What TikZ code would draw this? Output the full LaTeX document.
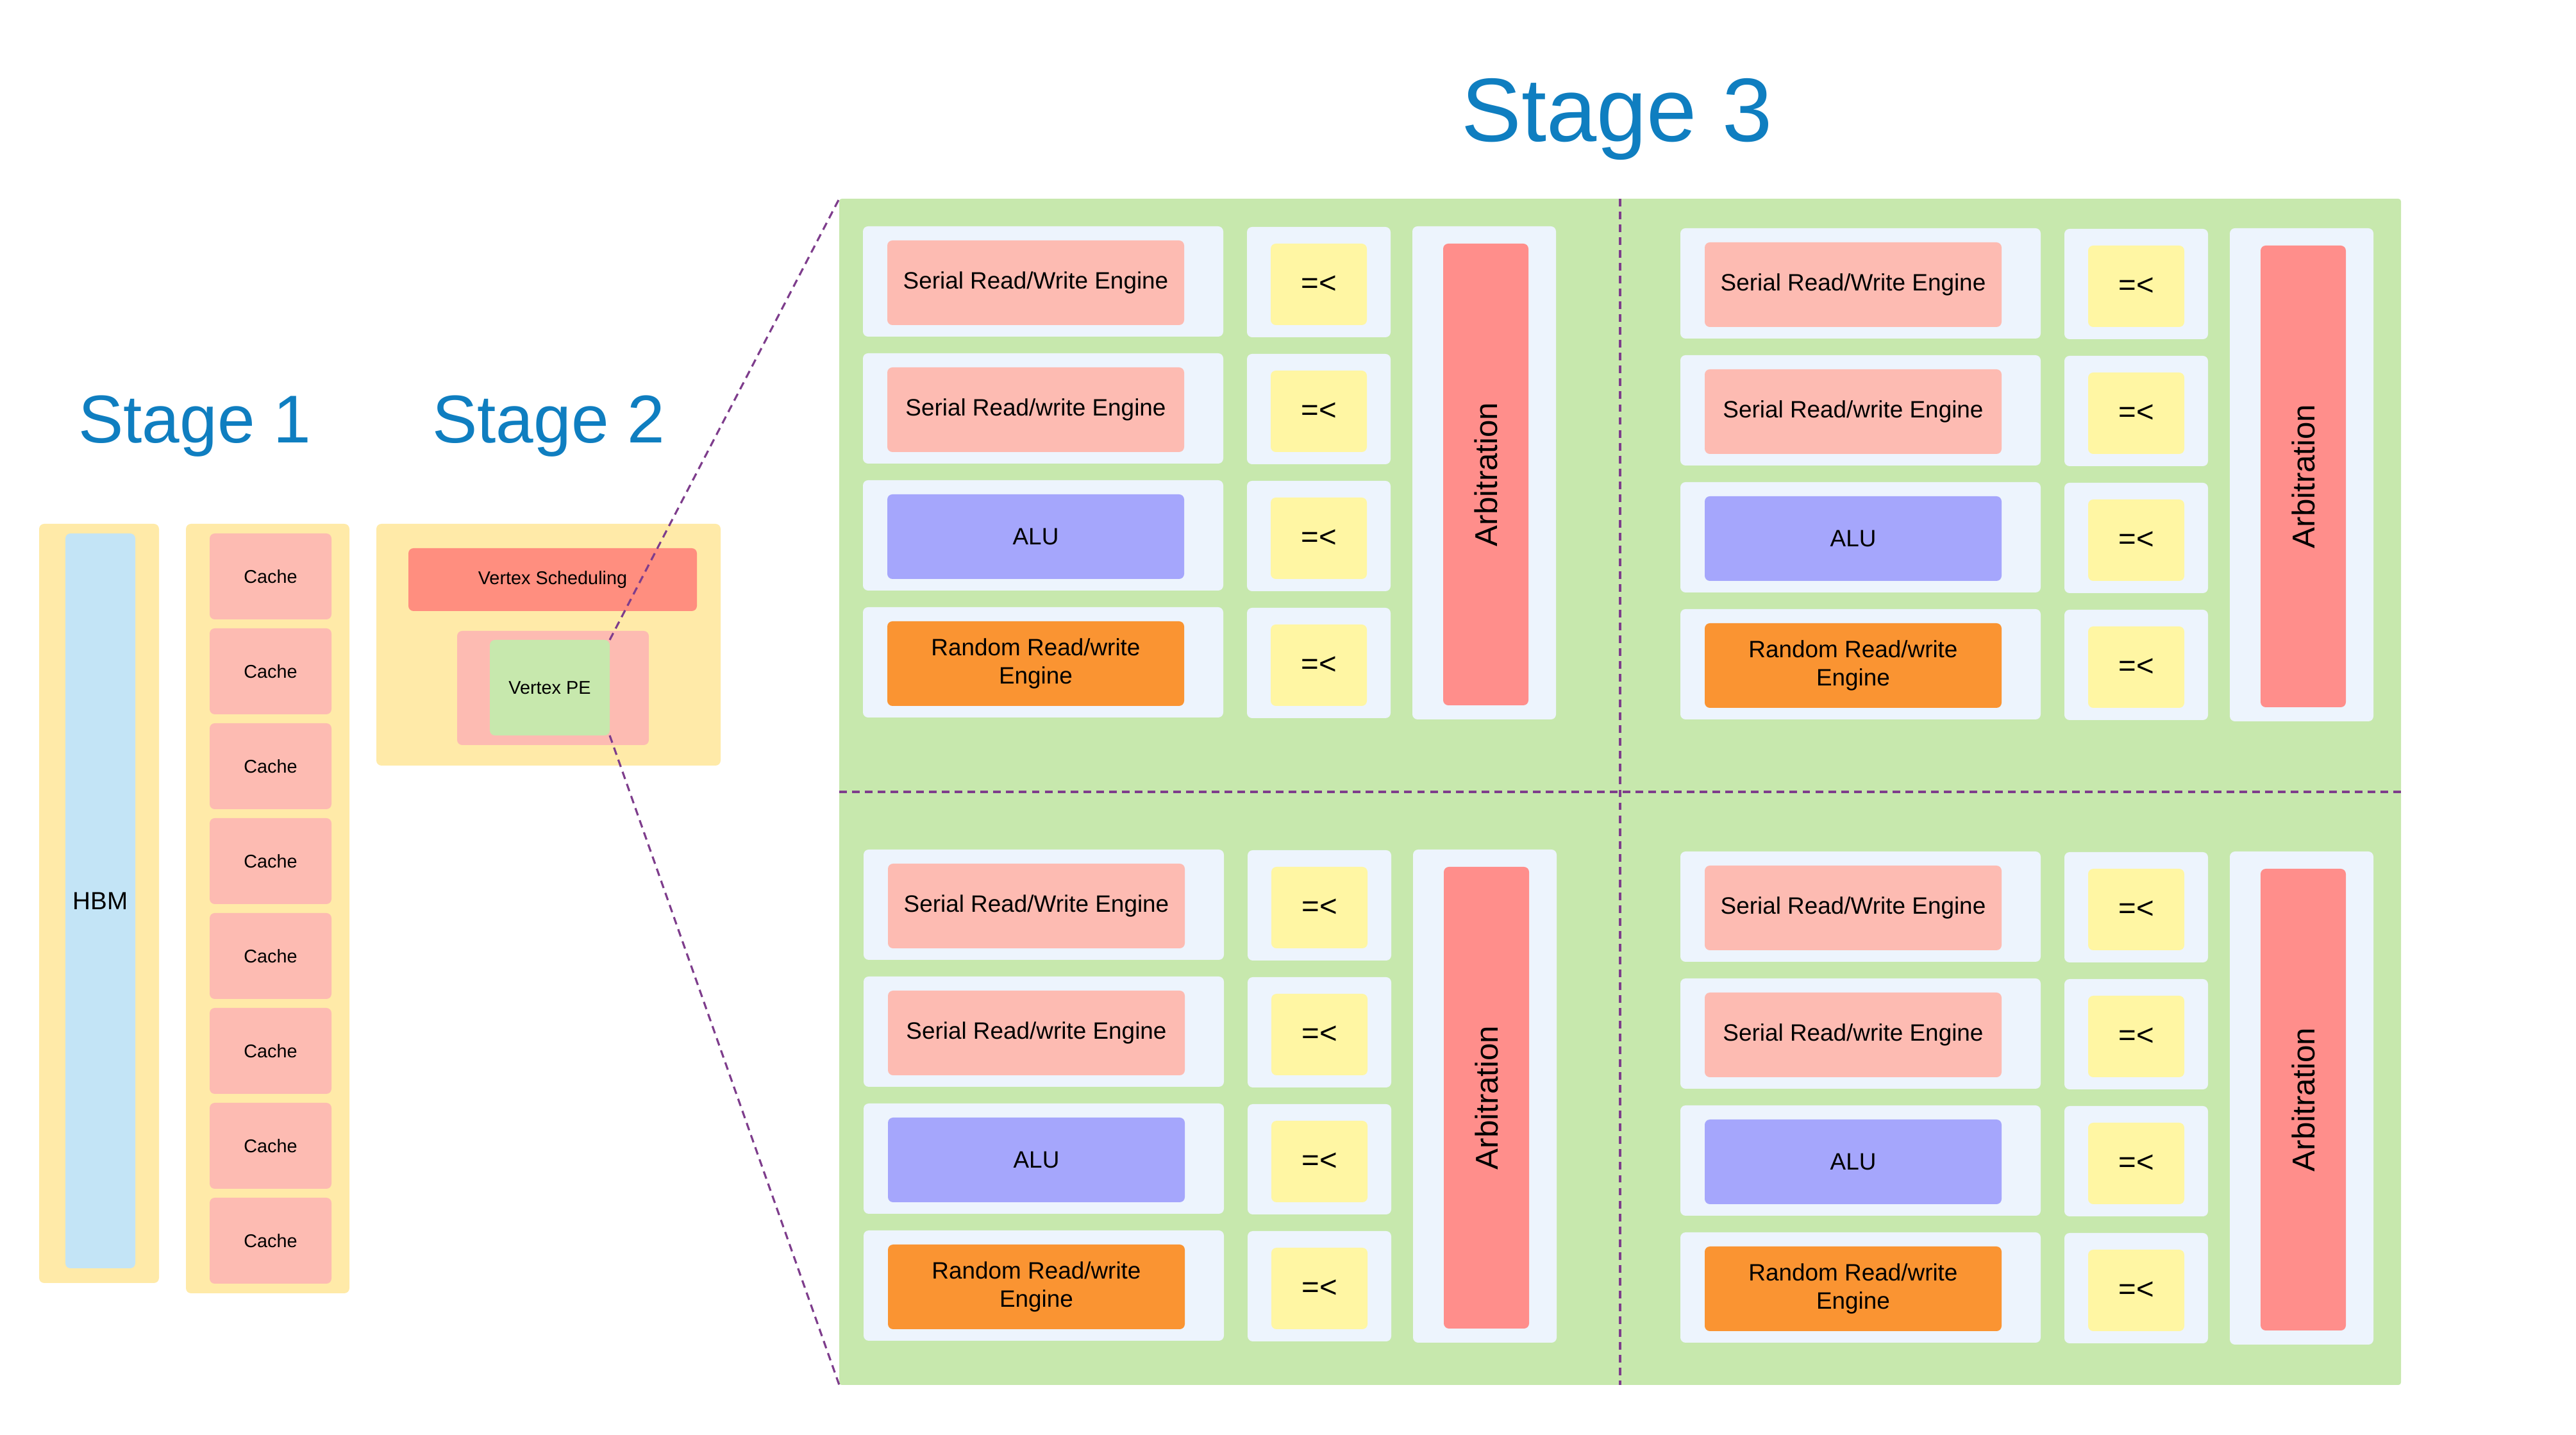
\documentclass[tikz,border=0pt]{standalone}
\usepackage{fontspec}
\setmainfont{Liberation Sans}
\usepackage{tikz}
\usetikzlibrary{positioning}
\definecolor{title}{HTML}{0F7EC0}
\definecolor{shell}{HTML}{FFEAA8}
\definecolor{hbm}{HTML}{C3E4F6}
\definecolor{cache}{HTML}{FDBBB2}
\definecolor{sched}{HTML}{FF8E7F}
\definecolor{pe}{HTML}{C7E8AD}
\definecolor{tile}{HTML}{EDF4FD}
\definecolor{alu}{HTML}{A5A6FC}
\definecolor{rand}{HTML}{FA9432}
\definecolor{cmp}{HTML}{FFF6A3}
\definecolor{arb}{HTML}{FF8E8B}
\definecolor{link}{HTML}{7E3D8C}

\begin{document}
\begin{tikzpicture}[x=1cm,y=1cm,
  blk/.style={rectangle,rounded corners=0.8mm,inner sep=0pt,outer sep=0pt,align=center,text=black},
  stage/.style={text=title,anchor=base,inner sep=0pt},
  link/.style={draw=link,line width=0.9pt,dash pattern=on 3.4pt off 2.3pt}]
\useasboundingbox (0,0) rectangle (40.18,22.37);
% --- titles
\node[stage,font=\fontsize{30}{36}\selectfont] (s1) at (3.04,15.46) {Stage 1};
\node[stage,font=\fontsize{30}{36}\selectfont] (s2) at (8.56,15.46) {Stage 2};
\node[stage,font=\fontsize{40}{48}\selectfont] (s3) at (25.22,20.16) {Stage 3};
% --- Stage 1: HBM and the caches
\node[blk,fill=shell,minimum width=1.87cm,minimum height=11.84cm] (hbmbox) at (1.545,8.28) {};
\node[blk,fill=hbm,minimum width=1.09cm,minimum height=11.46cm,font=\fontsize{11}{13}\selectfont] (hbm) at (1.565,8.32) {HBM};
\node[blk,fill=shell,minimum width=2.55cm,minimum height=12.00cm] (cachebox) at (4.175,8.20) {};
\foreach \k in {0,...,7} {\node[blk,fill=cache,minimum width=1.90cm,minimum height=1.34cm,font=\fontsize{8.2}{10}\selectfont] (cache\k) at (4.22,13.38-1.48*\k) {Cache};}
% --- Stage 2: scheduling and the PE
\node[blk,fill=shell,minimum width=5.37cm,minimum height=3.77cm] (s2box) at (8.555,12.315) {};
\node[blk,fill=sched,minimum width=4.50cm,minimum height=0.98cm,font=\fontsize{8.2}{10}\selectfont] (sched) at (8.62,13.33) {Vertex Scheduling};
\node[blk,fill=cache,minimum width=2.99cm,minimum height=1.78cm] (pebox) at (8.625,11.64) {};
\node[blk,fill=pe,minimum width=1.87cm,minimum height=1.49cm,font=\fontsize{8.2}{10}\selectfont] (pe) at (8.575,11.645) {Vertex PE};
% --- Stage 3: four blocks
\node[blk,fill=pe,rounded corners=0.4mm,minimum width=24.36cm,minimum height=18.50cm] (stage3) at (25.27,10.02) {};
\foreach \q/\qx/\qy in {a/13.46/18.84, b/26.21/18.81, c/13.47/9.12, d/26.21/9.09} {
\begin{scope}[shift={(\qx,\qy)}]
\foreach \k/\txt/\col in {0/{Serial Read/Write Engine}/cache, 1/{Serial Read/write Engine}/cache, 2/ALU/alu, 3/{Random Read/write\\Engine}/rand} {
\node[blk,fill=tile,minimum width=5.62cm,minimum height=1.72cm] (\q-row\k) at (2.81,-1.98*\k-0.86) {};
\node[blk,fill=\col,minimum width=4.63cm,minimum height=1.32cm,font=\fontsize{10.5}{12.6}\selectfont] (\q-eng\k) at (2.695,-1.98*\k-0.88) {\txt};
\node[blk,fill=tile,minimum width=2.24cm,minimum height=1.72cm] (\q-cmprow\k) at (7.11,-1.98*\k-0.87) {};
\node[blk,fill=cmp,minimum width=1.50cm,minimum height=1.27cm,font=\fontsize{13.5}{16}\selectfont] (\q-cmp\k) at (7.11,-1.98*\k-0.905) {=<};
}
\node[blk,fill=tile,minimum width=2.24cm,minimum height=7.69cm] (\q-arbrow) at (9.69,-3.845) {};
\node[blk,fill=arb,rotate=90,minimum width=7.20cm,minimum height=1.33cm,font=\fontsize{14}{17}\selectfont] (\q-arb) at (9.715,-3.87) {Arbitration};
\end{scope}
}
% --- dashed links
\draw[link] (stage3.north) -- (stage3.south);
\draw[link] (stage3.west) -- (stage3.east);
\draw[link] (pe.north east) -- (stage3.north west);
\draw[link] (pe.south east) -- (stage3.south west);
\end{tikzpicture}
\end{document}
